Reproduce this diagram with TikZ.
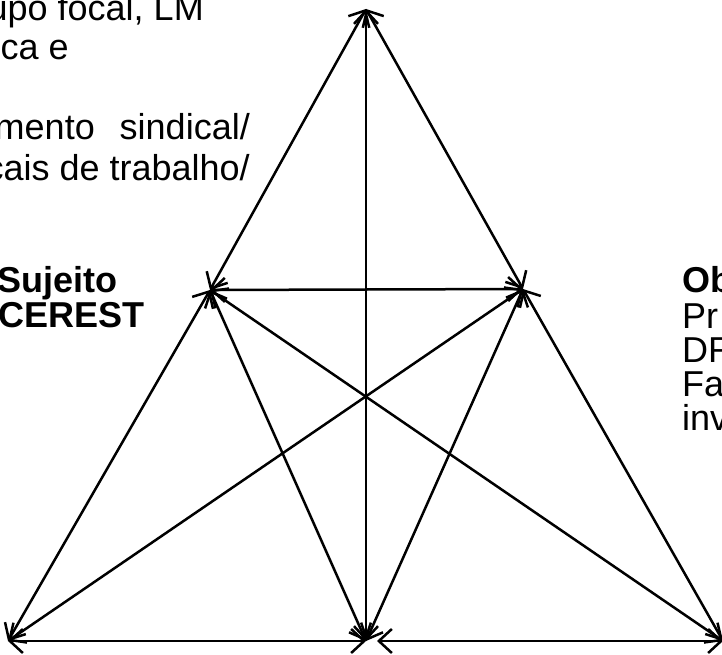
\documentclass[tikz,border=0pt]{standalone}
\usepackage{fontspec}
\setmainfont{Liberation Sans}
\usetikzlibrary{arrows.meta}
\begin{document}
\begin{tikzpicture}[x=1pt,y=-1pt,
  conn/.style={line width=2.5pt, {Straight Barb[length=13pt,width=24pt]}-{Straight Barb[length=13pt,width=24pt]}},
  lbl/.style={font=\fontsize{36}{39}\selectfont, inner sep=0pt},
  blbl/.style={font=\fontsize{36}{39}\selectfont\bfseries, inner sep=0pt}]
\useasboundingbox (0,0) rectangle (722,655);
\coordinate (T) at (366,9);
\coordinate (L) at (210,290);
\coordinate (R) at (523,289);
\coordinate (BL) at (8,641);
\coordinate (BM) at (366,641);
\coordinate (BMr) at (377,641);
\coordinate (BR) at (723,641);
\draw[conn] (T) -- (L);
\draw[conn] (T) -- (R);
\draw[conn] (T) -- (BM);
\draw[conn] (L) -- (R);
\draw[conn] (L) -- (BL);
\draw[conn] (L) -- (BM);
\draw[conn] (L) -- (BR);
\draw[conn] (R) -- (BR);
\draw[conn] (R) -- (BM);
\draw[conn] (R) -- (BL);
\draw[conn] (BL) -- (BM);
\draw[conn] (BMr) -- (BR);
\node[lbl, anchor=base east] (t1) at (204,21) {upo focal, LM};
\node[lbl, anchor=base east] (t2) at (69,60) {ica e};
\node[lbl, anchor=base east] (t3) at (95,140) {mento};
\node[lbl, anchor=base east] (t4) at (250,140) {sindical/};
\node[lbl, anchor=base east] (t5) at (250,180) {cais de trabalho/};
\node[blbl, anchor=base east] (s1) at (118,292) {Sujeito};
\node[blbl, anchor=base east] (s2) at (145,327) {CEREST};
\node[blbl, anchor=base west] (o1) at (682,292) {Ob};
\node[lbl, anchor=base west] (o2) at (682,328) {Pr};
\node[lbl, anchor=base west] (o3) at (682,362) {DR};
\node[lbl, anchor=base west] (o4) at (682,396) {Fa};
\node[lbl, anchor=base west] (o5) at (682,430) {inv};
\end{tikzpicture}
\end{document}
